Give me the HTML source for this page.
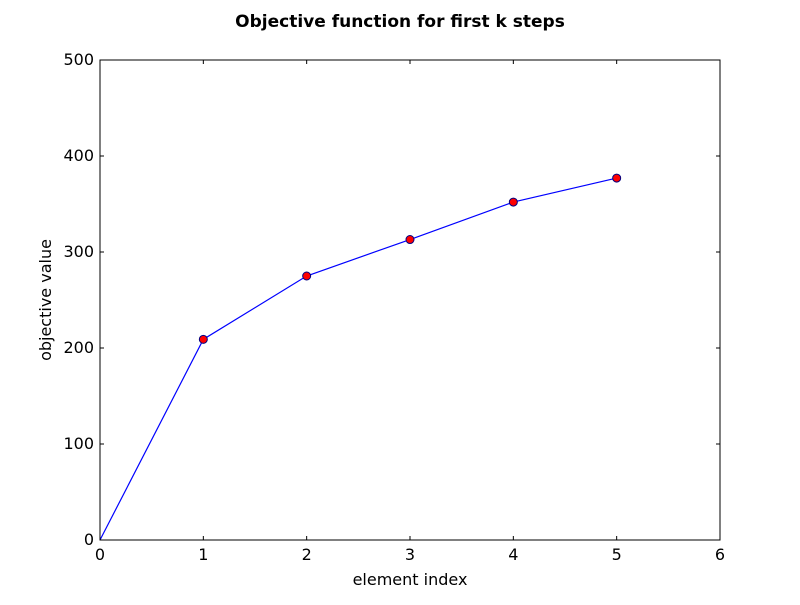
<!DOCTYPE html>
<html><head><meta charset="utf-8"><style>
body{margin:0;background:#fff;}
svg text{font-family:"DejaVu Sans","Liberation Sans",sans-serif;}
</style></head><body>
<svg id="chart" width="800" height="600" xmlns="http://www.w3.org/2000/svg">
<rect width="800" height="600" fill="#fff"/>
<text x="400" y="27" text-anchor="middle" font-size="17" font-weight="bold">Objective function for first k steps</text>
<g id="plot"></g>
<rect x="100" y="60" width="620" height="480" fill="none" stroke="#000" stroke-width="1"/>
<text x="410" y="585" text-anchor="middle" font-size="16">element index</text>
<text transform="translate(51,300) rotate(-90)" text-anchor="middle" font-size="16">objective value</text>
</svg>
<script>
const xValues=[0,1,2,3,4,5];
const yValues=[0,209,275,313,352,377];
const markerFlags=[false,true,true,true,true,true];
const xTicks=[0,1,2,3,4,5,6];
const yTicks=[0,100,200,300,400,500];
const NS="http://www.w3.org/2000/svg";
const L=100,R=720,T=60,B=540;
const sx=v=>L+(v-0)/(6-0)*(R-L);
const sy=v=>B-(v-0)/(500-0)*(B-T);
const g=document.getElementById('plot');
function mk(t,a){const e=document.createElementNS(NS,t);for(const k in a)e.setAttribute(k,a[k]);g.appendChild(e);return e;}
xTicks.forEach(v=>{
  const x=sx(v);
  const t1=mk('line',{x1:x,x2:x,y1:B,y2:B-4,stroke:'#000'});
  
  
  const t2=mk('line',{x1:x,x2:x,y1:T,y2:T+4,stroke:'#000'});
  
  
  const tx=mk('text',{x:x,y:B+20,'text-anchor':'middle','font-size':16});
  tx.textContent=v;
  
  
});
yTicks.forEach(v=>{
  const y=sy(v);
  const t1=mk('line',{x1:L,x2:L+4,y1:y,y2:y,stroke:'#000'});
  
  
  const t2=mk('line',{x1:R,x2:R-4,y1:y,y2:y,stroke:'#000'});
  
  
  const tx=mk('text',{x:L-6,y:y+5,'text-anchor':'end','font-size':16});
  tx.textContent=v;
  
  
});
const pts=xValues.map((x,i)=>sx(x)+','+sy(yValues[i])).join(' ');
const line=mk('polyline',{points:pts,fill:'none',stroke:'#0000ff','stroke-width':1.2});


xValues.forEach((x,i)=>{
  if(!markerFlags[i])return;
  const c=mk('circle',{cx:sx(x),cy:sy(yValues[i]),r:4,fill:'#ff0000',stroke:'#000080','stroke-width':1});
  
  
});
</script>
</body></html>
